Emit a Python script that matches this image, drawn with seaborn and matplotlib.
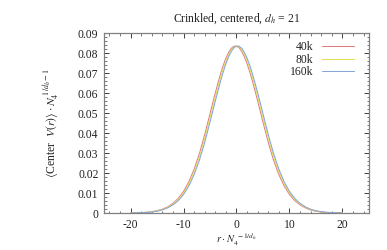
import matplotlib
matplotlib.use("Agg")
import matplotlib.pyplot as plt
import seaborn as sns
import pandas as pd
from matplotlib.ticker import MultipleLocator, AutoMinorLocator

# ---- data ----
r_grid = [-20, -19, -18, -17, -16, -15, -14, -13, -12, -11, -10, -9, -8, -7, -6, -5,
          -4.5, -4, -3.5, -3, -2.5, -2, -1.5, -1, -0.5, 0, 0.5, 1, 1.5, 2, 2.5, 3, 3.5, 4, 4.5,
          5, 6, 7, 8, 9, 10, 11, 12, 13, 14, 15, 16, 17, 18, 19, 20]

v_40k = [0.00000, 0.00012, 0.00022, 0.00034, 0.00068, 0.00112, 0.00188, 0.00306, 0.00478,
         0.00726, 0.01078, 0.01554, 0.02184, 0.02968, 0.03914, 0.04958,
         0.05490, 0.06004, 0.06496, 0.06964, 0.07386, 0.07740, 0.08020, 0.08230, 0.08340,
         0.08340,
         0.08260, 0.08070, 0.07800, 0.07460, 0.07054, 0.06596, 0.06104, 0.05596, 0.05070,
         0.04542, 0.03526, 0.02632, 0.01916, 0.01346, 0.00922, 0.00614, 0.00402, 0.00254,
         0.00152, 0.00088, 0.00052, 0.00026, 0.00018, 0.00008, 0.00000]

v_80k = [0.0000, 0.0001, 0.0002, 0.0003, 0.0006, 0.0010, 0.0017, 0.0028, 0.0044, 0.0067,
         0.0100, 0.0145, 0.0205, 0.0280, 0.0372, 0.0475,
         0.0528, 0.0580, 0.0630, 0.0678, 0.0722, 0.0760, 0.0791, 0.0815, 0.0830,
         0.0835,
         0.0830, 0.0815, 0.0791, 0.0760, 0.0722, 0.0678, 0.0630, 0.0580, 0.0528,
         0.0475, 0.0372, 0.0280, 0.0205, 0.0145, 0.0100, 0.0067, 0.0044, 0.0028,
         0.0017, 0.0010, 0.0006, 0.0003, 0.0002, 0.0001, 0.0000]

v_160k = [0.00000, 0.00008, 0.00018, 0.00026, 0.00052, 0.00088, 0.00152, 0.00254, 0.00402,
          0.00614, 0.00922, 0.01346, 0.01916, 0.02632, 0.03526, 0.04542,
          0.05070, 0.05596, 0.06104, 0.06596, 0.07054, 0.07460, 0.07800, 0.08070, 0.08260,
          0.08340,
          0.08340, 0.08230, 0.08020, 0.07740, 0.07386, 0.06964, 0.06496, 0.06004, 0.05490,
          0.04958, 0.03914, 0.02968, 0.02184, 0.01554, 0.01078, 0.00726, 0.00478, 0.00306,
          0.00188, 0.00112, 0.00068, 0.00034, 0.00022, 0.00012, 0.00000]

series_names = ["40k", "80k", "160k"]
series_colors = ["#e07c7c", "#e6de55", "#86a6d8"]

x_ticks = [-20, -10, 0, 10, 20]
x_tick_labels = ["-20", "-10", "0", "10", "20"]
y_ticks = [0, 0.01, 0.02, 0.03, 0.04, 0.05, 0.06, 0.07, 0.08, 0.09]
y_tick_labels = ["0", "0.01", "0.02", "0.03", "0.04", "0.05", "0.06", "0.07", "0.08", "0.09"]

title = r"Crinkled, centered, $d_h$ = 21"
xlabel = r"$r \cdot N_4^{\ -1/d_h}$"
ylabel = r"$\langle$Center  $V(r)\rangle \cdot N_4^{\ 1/d_h - 1}$"

# ---- build long table ----
frames = []
for name, vals in zip(series_names, [v_40k, v_80k, v_160k]):
    frames.append(pd.DataFrame({"r": r_grid, "v": vals, "N": name}))
df = pd.concat(frames, ignore_index=True)

sns.set_theme(style="ticks")
plt.rcParams["font.family"] = ["Liberation Serif", "DejaVu Serif"]
plt.rcParams["mathtext.fontset"] = "stix"
plt.rcParams["axes.unicode_minus"] = False

fs = 8.4
fig = plt.figure(figsize=(3.87, 2.50), dpi=100)
ax = fig.add_axes([104 / 387, 37 / 250, 265 / 387, 180 / 250])

sns.lineplot(data=df, x="r", y="v", hue="N", hue_order=series_names,
             palette=dict(zip(series_names, series_colors)), linewidth=0.75,
             ax=ax, legend=True, estimator=None, sort=False)

ax.set_xlim(-25, 25)
ax.set_ylim(0, 0.09)
ax.set_xticks(x_ticks)
ax.set_xticklabels(x_tick_labels)
ax.set_yticks(y_ticks)
ax.set_yticklabels(y_tick_labels)
ax.xaxis.set_minor_locator(MultipleLocator(2))
ax.yaxis.set_minor_locator(AutoMinorLocator(5))

spine_col = "#808080"
for s in ax.spines.values():
    s.set_visible(True)
    s.set_color(spine_col)
    s.set_linewidth(0.9)

ax.tick_params(which="both", direction="in", top=True, right=True,
               color="#404040", labelsize=fs, labelcolor="#222222")
ax.tick_params(which="major", length=3.5, width=0.7, pad=4)
ax.tick_params(which="minor", length=1.8, width=0.5)

ax.set_title(title, fontsize=fs, pad=8, color="#222222")
ax.set_xlabel(xlabel, fontsize=7.6, labelpad=0.5, color="#222222")
ax.set_ylabel(ylabel, fontsize=fs, labelpad=12, color="#222222")

handles, labels = ax.get_legend_handles_labels()
leg = ax.legend(handles, labels, loc="upper right", frameon=False, fontsize=fs,
                markerfirst=False, handlelength=2.8, handletextpad=0.7,
                labelspacing=0.05, borderaxespad=0.3, bbox_to_anchor=(0.975, 1.0))
for t in leg.get_texts():
    t.set_color("#222222")

fig.savefig("out.png", dpi=100)
